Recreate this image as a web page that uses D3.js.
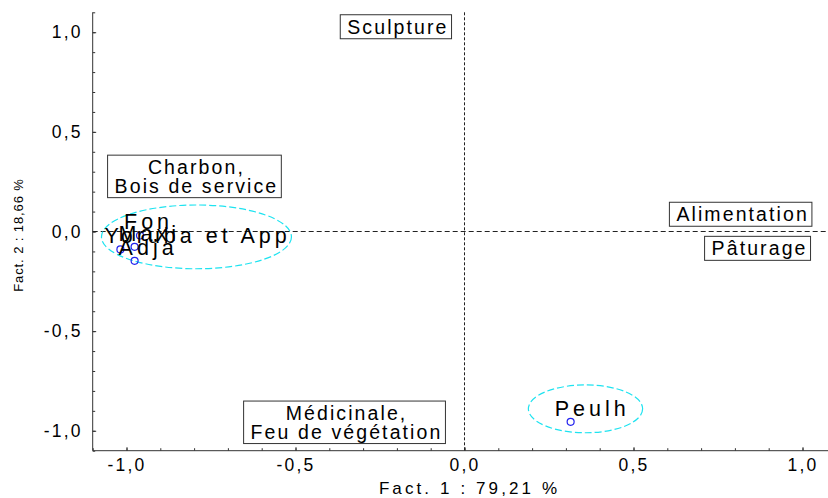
<!DOCTYPE html>
<html lang="fr">
  <head>
    <meta charset="UTF-8" />
    <script src="https://cdn.jsdelivr.net/npm/d3@7"></script>
    <title>AFC</title>
    <style>
      body { margin: 0; background: white; }
      text { font-family: "Liberation Sans", Arial, sans-serif; fill: #000; }
    </style>
  </head>
  <body>
    <script>
      // ---------- data ----------
      // column modalities (boxed labels), centre coordinates
      const colLabels = [
        ["Sculpture"],
        ["Charbon,", "Bois de service"],
        ["Alimentation"],
        ["Pâturage"],
        ["Médicinale,", "Feu de végétation"],
      ];
      const colX = [-0.2, -0.796, 0.82, 0.87, -0.352];
      const colY = [1.025, 0.274, 0.084, -0.087, -0.96];

      // row points (ethnic groups)
      const rowNames = ["Fon", "Yoruba et App", "Maxi", "Adja", "Peulh"];
      const rowX = [-0.96, -1.018, -0.976, -0.976, 0.314];
      const rowY = [-0.02, -0.09, -0.077, -0.147, -0.955];

      // clusters (ellipses): centre and radii
      const ellX = [-0.793, 0.358];
      const ellY = [-0.027, -0.89];
      const ellRx = [0.281, 0.169];
      const ellRy = [0.16, 0.12];

      const majorTicks = [-1, -0.5, 0, 0.5, 1];
      const minorTicks = d3.range(-11, 12).map((d) => d / 10);

      // ---------- setup ----------
      const W = 828, H = 498;
      const svg = d3.select("body").append("svg").attr("width", W).attr("height", H);

      const x = d3.scaleLinear().domain([-1.1, 1.1]).range([92.7, 836.3]);
      const y = d3.scaleLinear().domain([-1.1, 1.1]).range([450.7, 12.3]);
      const fmt = (d) => d3.format(".1f")(d).replace(".", ",").replace("−", "-");

      // ---------- axes ----------
      const ax = svg.append("g").attr("transform", `translate(0,${y(-1.1)})`);
      ax.call(d3.axisBottom(x).tickValues(minorTicks.filter((d) => x(d) < W)).tickSize(-2.5).tickFormat(""));
      ax.call((g) => g.select(".domain").remove());
      const axMaj = svg.append("g").attr("transform", `translate(0,${y(-1.1)})`)
        .call(d3.axisBottom(x).tickValues(majorTicks).tickSize(-3.5).tickPadding(8).tickFormat(fmt));
      axMaj.select(".domain").remove();

      const ay = svg.append("g").attr("transform", `translate(${x(-1.1)},0)`);
      ay.call(d3.axisLeft(y).tickValues(minorTicks).tickSize(-2.5).tickFormat(""));
      ay.call((g) => g.select(".domain").remove());
      const ayMaj = svg.append("g").attr("transform", `translate(${x(-1.1)},0)`)
        .call(d3.axisLeft(y).tickValues(majorTicks).tickSize(-3.5).tickPadding(10).tickFormat(fmt));
      ayMaj.select(".domain").remove();

      svg.selectAll(".tick text").attr("font-size", 17.5).style("letter-spacing", "2.2px")
        .attr("font-family", "Liberation Sans, Arial, sans-serif").attr("fill", "#000");
      svg.selectAll(".tick line").attr("stroke", "#333");

      svg.append("line").attr("x1", x(-1.1)).attr("x2", W).attr("y1", y(-1.1)).attr("y2", y(-1.1))
        .attr("stroke", "#333");
      svg.append("line").attr("x1", x(-1.1)).attr("x2", x(-1.1)).attr("y1", y(1.1)).attr("y2", y(-1.1))
        .attr("stroke", "#333");

      // origin reference lines
      svg.append("line").attr("x1", x(-1.1)).attr("x2", W).attr("y1", y(0)).attr("y2", y(0))
        .attr("stroke", "#222").attr("stroke-dasharray", "5,3");
      svg.append("line").attr("x1", x(0)).attr("x2", x(0)).attr("y1", y(1.1)).attr("y2", y(-1.1))
        .attr("stroke", "#222").attr("stroke-dasharray", "3,2");

      // axis titles
      svg.append("text").attr("x", x(0) + 5).attr("y", 494).attr("text-anchor", "middle")
        .attr("font-size", 17).style("letter-spacing", "3.1px").text("Fact. 1  : 79,21 %");
      svg.append("text").attr("transform", `translate(23,${235}) rotate(-90)`).attr("text-anchor", "middle")
        .attr("font-size", 13).style("letter-spacing", "0.9px").text("Fact. 2  : 18,66 %");

      // ---------- ellipses ----------
      svg.selectAll(".ell").data(ellX).enter().append("ellipse")
        .attr("cx", (d) => x(d))
        .attr("cy", (d, i) => y(ellY[i]))
        .attr("rx", (d, i) => x(ellRx[i]) - x(0))
        .attr("ry", (d, i) => y(0) - y(ellRy[i]))
        .attr("fill", "none").attr("stroke", "#1ee3f0").attr("stroke-width", 1.2)
        .attr("stroke-dasharray", "7,3");

      // ---------- row points ----------
      svg.selectAll(".pt").data(rowX).enter().append("circle")
        .attr("cx", (d) => x(d)).attr("cy", (d, i) => y(rowY[i])).attr("r", 3.5)
        .attr("fill", "none").attr("stroke", "#2222ee").attr("stroke-width", 1.2);
      svg.selectAll(".ptlab").data(rowNames).enter().append("text")
        .attr("x", (d, i) => x(rowX[i]) - 16)
        .attr("y", (d, i) => y(rowY[i]) - 6)
        .attr("font-size", 21.5).style("letter-spacing", "4px")
        .text((d) => d);

      // ---------- boxed column labels ----------
      colLabels.forEach((lines, i) => {
        const g = svg.append("g");
        const cx = x(colX[i]), cy = y(colY[i]);
        const lh = 18.5;
        const t = g.append("text").attr("text-anchor", "start").attr("font-size", 19.5)
          .style("letter-spacing", "2.1px");
        const spans = lines.map((s, j) =>
          t.append("tspan").attr("x", 0)
            .attr("y", cy + 6.5 + (j - (lines.length - 1) / 2) * lh).text(s));
        // centre each line on cx
        const widths = spans.map((sp) => sp.node().getComputedTextLength());
        const wMax = d3.max(widths);
        spans.forEach((sp, j) => sp.attr("x", cx - widths[j] / 2 + 1));
        const b = t.node().getBBox();
        g.insert("rect", "text")
          .attr("x", cx - wMax / 2 - 6).attr("y", b.y - 1).attr("width", wMax + 10).attr("height", b.height + 2)
          .attr("fill", "white").attr("stroke", "#333").attr("stroke-width", 1);
      });
    </script>
  </body>
</html>
